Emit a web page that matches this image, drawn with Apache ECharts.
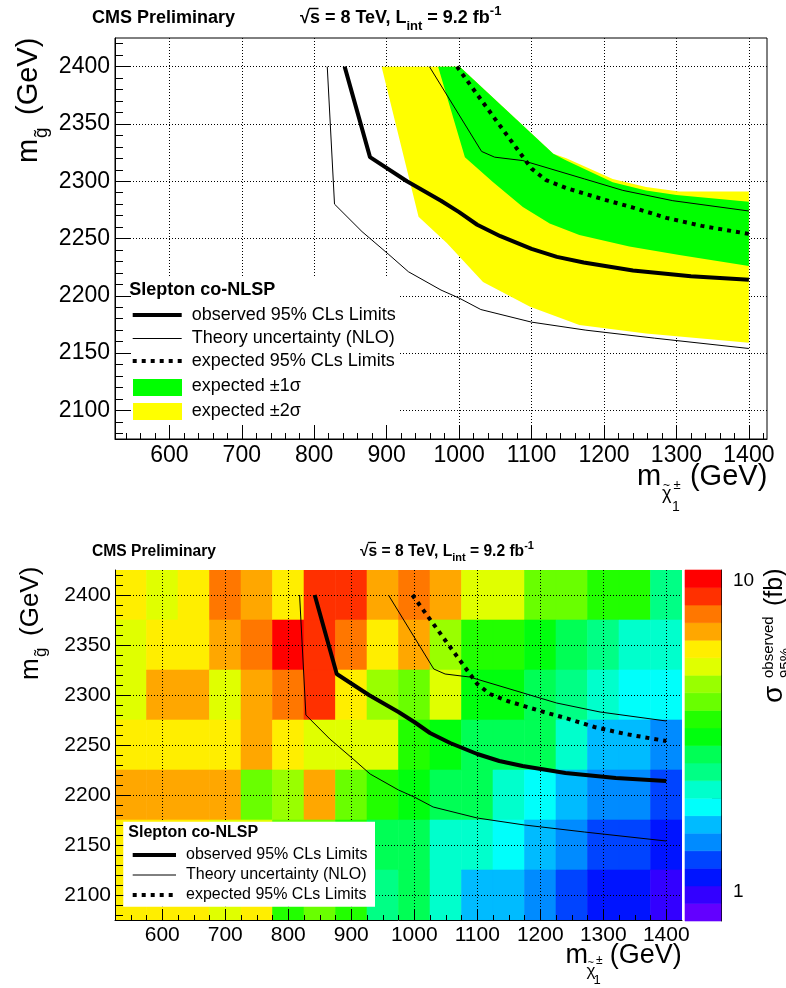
<!DOCTYPE html>
<html lang="en">
<head>
<meta charset="UTF-8" />
<title>Slepton co-NLSP limits</title>
<script src="https://cdn.jsdelivr.net/npm/echarts@6.0.0/dist/echarts.min.js"></script>
<style>
  html, body { margin: 0; padding: 0; background: #fff; }
  #chart { width: 786px; height: 988px; }
</style>
</head>
<body>
<div id="chart"></div>
<script>
// chargino mass bin centres (GeV) and gluino mass bin centres (GeV)
const xBins = [550, 600, 650, 700, 750, 800, 850, 900, 950, 1000, 1050, 1100, 1150, 1200, 1250, 1300, 1350, 1400];
const yBins = [2400, 2350, 2300, 2250, 2200, 2150, 2100];

// observed 95% CLs cross-section limit (fb), one row per gluino mass
const sigmaObs = [
  [6.05, 5.31, 6.05, 7.84, 6.89, 6.05, 8.93, 8.93, 6.89, 7.84, 6.89, 5.31, 5.31, 4.09, 4.09, 3.59, 3.59, 2.43],
  [5.31, 6.05, 6.05, 6.89, 7.84, 10.2, 8.93, 7.84, 6.05, 6.89, 4.66, 3.59, 3.59, 3.16, 2.77, 2.43, 2.14, 2.14],
  [5.31, 6.89, 6.89, 5.31, 6.89, 7.84, 8.93, 6.05, 4.66, 4.09, 5.31, 3.16, 3.16, 2.77, 2.43, 2.14, 1.88, 1.88],
  [6.05, 6.05, 6.05, 6.05, 6.89, 6.05, 5.31, 5.31, 5.31, 3.59, 3.16, 2.77, 2.77, 2.77, 2.14, 1.65, 1.65, 1.45],
  [6.89, 6.89, 6.89, 6.89, 4.09, 4.66, 6.89, 4.09, 3.59, 3.16, 2.77, 2.77, 2.14, 1.88, 1.65, 1.45, 1.45, 1.27],
  [6.05, 6.05, 6.05, 5.31, 5.31, 4.09, 4.09, 3.59, 2.77, 2.77, 2.14, 2.14, 1.88, 1.65, 1.45, 1.27, 1.27, 1.12],
  [6.05, 6.05, 6.05, 5.31, 6.05, 3.59, 4.09, 3.59, 2.43, 2.77, 2.14, 1.65, 1.65, 1.45, 1.27, 1.12, 1.12, 0.98]
];

// limit contours [m_chargino, m_gluino]
const observedLimit = [[842, 2400], [877, 2321], [928, 2300], [975, 2283], [1000, 2273], [1025, 2262], [1057, 2252], [1100, 2241], [1135, 2234], [1172, 2229], [1240, 2222], [1320, 2217], [1400, 2214]];
const theoryUp = [[959, 2400], [1031, 2326], [1049, 2321], [1088, 2318], [1173, 2302], [1226, 2292], [1295, 2283], [1400, 2274]];
const theoryDown = [[818, 2400], [828, 2280], [866, 2256], [903, 2236], [930, 2221], [975, 2205], [1000, 2198], [1030, 2188], [1100, 2177], [1175, 2170], [1270, 2163], [1400, 2154]];
const expectedLimit = [[997, 2400], [1050, 2354], [1100, 2311], [1120, 2301], [1148, 2294], [1200, 2284], [1240, 2277], [1286, 2268], [1335, 2261], [1400, 2254]];
// expected bands as closed outlines
const expected2s = [[893, 2400], [1001, 2400], [1130, 2324], [1148, 2320], [1212, 2302], [1258, 2295], [1304, 2291], [1400, 2291], [1400, 2159], [1258, 2167], [1166, 2174.5], [1098, 2190.5], [1033, 2212], [983, 2246], [944, 2269]];
const expected1s = [[971, 2400], [1001, 2400], [1130, 2324], [1148, 2318], [1212, 2299], [1258, 2292], [1300, 2288], [1400, 2282], [1400, 2226], [1304, 2235.5], [1235, 2243], [1166, 2253], [1125, 2263], [1088, 2277.5], [1047, 2299], [1008, 2321]];

// axis ticks
const xTicks = [600, 700, 800, 900, 1000, 1100, 1200, 1300, 1400];
const yTicks = [2100, 2150, 2200, 2250, 2300, 2350, 2400];
const zTicks = [1, 10];
const zMinorTicks = [0.9, 2, 3, 4, 5, 6, 7, 8, 9];

// colour scale (log), 20 contour levels, violet -> red
const zMin = 0.807, zMax = 10.85;
const palette = ['#6300ff', '#3300ff', '#0014ff', '#0044ff', '#008bff', '#00bbff', '#00fffb', '#00ffcc', '#00ff85', '#00ff55',
                 '#00ff0e', '#22ff00', '#69ff00', '#99ff00', '#e0ff00', '#ffee00', '#ffa700', '#ff7700', '#ff3000', '#ff0000'];

const FONT = '"Liberation Sans", Arial, Helvetica, sans-serif';

function minorList(from, to, step, skip) {
  const out = [];
  for (let v = from; v <= to; v += step) if (v % skip !== 0) out.push(v);
  return out;
}
const topXMinor = minorList(540, 1420, 20, 100);
const botXMinor = minorList(550, 1400, 25, 100);
const yMinor = minorList(2080, 2420, 10, 50);

const levels = palette.map((c, j) => zMin * Math.pow(zMax / zMin, j / palette.length)).concat([zMax]);

const heatData = [];
yBins.forEach((y, r) => xBins.forEach((x, c) => heatData.push([x, y, sigmaObs[r][c]])));

function axis(o) {
  return {
    type: 'value', gridIndex: o.grid, min: o.min, max: o.max, position: o.pos,
    splitNumber: o.split || 5, z: o.z || 0,
    axisLine: { show: !!o.line, onZero: false, lineStyle: { color: '#000', width: 1 } },
    axisTick: { show: true, inside: true, length: o.tickLen, customValues: o.ticks, lineStyle: { color: '#000', width: 1 } },
    axisLabel: o.labelSize
      ? { show: true, customValues: o.ticks, fontSize: o.labelSize, fontFamily: FONT, color: '#000', margin: o.margin, formatter: o.fmt || (v => String(v)) }
      : { show: false },
    splitLine: o.gridLines ? { show: true, lineStyle: { color: '#000', width: 1, type: [1, 2] } } : { show: false },
    minorTick: { show: false }
  };
}

function polygon(points, color) {
  return function (params, api) {
    if (params.dataIndex !== 0) return null;
    return { type: 'polygon', shape: { points: points.map(p => api.coord(p)) }, style: { fill: color } };
  };
}

function contour(data, xi, yi, width, dash, z) {
  return {
    type: 'line', xAxisIndex: xi, yAxisIndex: yi, data: data, z: z,
    showSymbol: false, symbol: 'none', silent: true, clip: true,
    lineStyle: { color: '#000', width: width, type: dash || 'solid', cap: 'butt' }
  };
}

function txt(x, y, text, size, extra) {
  return Object.assign({
    type: 'text', x: x, y: y, z: 30,
    style: Object.assign({ text: text, fontSize: size, fontFamily: FONT, fill: '#000', verticalAlign: 'middle', align: 'left' }, (extra && extra.style) || {})
  }, extra && extra.el);
}

function seg(x1, y1, x2, y2, w, dash) {
  return { type: 'line', z: 30, shape: { x1: x1, y1: y1, x2: x2, y2: y2 }, style: { stroke: '#000', lineWidth: w, lineDash: dash || null } };
}

function titleRich(sub) {
  return {
    sub: { fontSize: sub, fontWeight: 'bold', fontFamily: FONT, verticalAlign: 'middle', padding: [Math.round(sub * 1.2), 0, 0, 0] },
    sup: { fontSize: sub, fontWeight: 'bold', fontFamily: FONT, verticalAlign: 'middle', padding: [0, 0, Math.round(sub * 1.05), 0] }
  };
}

const chart = echarts.init(document.getElementById('chart'), null, { renderer: 'canvas' });

const option = {
  animation: false,
  backgroundColor: '#fff',
  grid: [
    { left: 115, top: 38, width: 652, height: 401, show: true, borderColor: '#000', borderWidth: 1, backgroundColor: 'transparent' },
    { left: 115, top: 570, width: 567, height: 350, show: false },
    { left: 685, top: 570, width: 36, height: 351, show: false }
  ],
  xAxis: [
    axis({ grid: 0, min: 525, max: 1425, pos: 'bottom', split: 9, line: true, tickLen: 14, ticks: xTicks, labelSize: 23, margin: 5, gridLines: true }),
    axis({ grid: 0, min: 525, max: 1425, pos: 'bottom', split: 9, tickLen: 6, ticks: topXMinor }),
    axis({ grid: 1, min: 525, max: 1425, pos: 'bottom', split: 9, line: true, tickLen: 11, ticks: xTicks, labelSize: 21, margin: 5, gridLines: true, z: 5 }),
    axis({ grid: 1, min: 525, max: 1425, pos: 'bottom', split: 9, tickLen: 5, ticks: botXMinor, z: 5 }),
    { type: 'value', gridIndex: 2, min: 0, max: 1, show: false }
  ],
  yAxis: [
    axis({ grid: 0, min: 2075, max: 2425, pos: 'left', split: 7, line: true, tickLen: 16, ticks: yTicks, labelSize: 23, margin: 5, gridLines: true }),
    axis({ grid: 0, min: 2075, max: 2425, pos: 'left', split: 7, tickLen: 8, ticks: yMinor }),
    axis({ grid: 1, min: 2075, max: 2425, pos: 'left', split: 7, line: true, tickLen: 16, ticks: yTicks, labelSize: 21, margin: 4, gridLines: true, z: 5 }),
    axis({ grid: 1, min: 2075, max: 2425, pos: 'left', split: 7, tickLen: 8, ticks: yMinor, z: 5 }),
    axis({ grid: 2, min: Math.log10(zMin), max: Math.log10(zMax), pos: 'right', line: true, tickLen: 17,
           ticks: zTicks.map(Math.log10), labelSize: 19, margin: 12, fmt: v => String(Math.round(Math.pow(10, v))) }),
    axis({ grid: 2, min: Math.log10(zMin), max: Math.log10(zMax), pos: 'right', tickLen: 9, ticks: zMinorTicks.map(Math.log10) })
  ],
  visualMap: [{
    type: 'piecewise', show: false, seriesIndex: 0, dimension: 2,
    pieces: palette.map((color, j) => ({ gte: levels[j], lt: levels[j + 1], color: color }))
  }],
  series: [
    {
      type: 'custom', name: 'sigma', xAxisIndex: 2, yAxisIndex: 2, z: 2, clip: true, silent: true,
      data: heatData, encode: { x: 0, y: 1 },
      renderItem: function (params, api) {
        const x = api.value(0), y = api.value(1);
        const p0 = api.coord([x - 25, y + 25]);
        const p1 = api.coord([x + 25, y - 25]);
        const c = api.visual('color');
        return { type: 'rect', shape: { x: p0[0], y: p0[1], width: p1[0] - p0[0], height: p1[1] - p0[1] }, style: { fill: c, stroke: c, lineWidth: 0.6 } };
      }
    },
    {
      type: 'custom', name: 'colorbar', xAxisIndex: 4, yAxisIndex: 4, z: 2, silent: true,
      data: palette.map((c, j) => [j]),
      renderItem: function (params, api) {
        const j = api.value(0);
        const p0 = api.coord([0, Math.log10(levels[j + 1])]);
        const p1 = api.coord([1, Math.log10(levels[j])]);
        return { type: 'rect', shape: { x: p0[0], y: p0[1], width: p1[0] - p0[0], height: p1[1] - p0[1] }, style: { fill: palette[j], stroke: palette[j], lineWidth: 0.6 } };
      }
    },
    { type: 'custom', xAxisIndex: 0, yAxisIndex: 0, z: 2, silent: true, clip: true, data: expected2s, encode: { x: 0, y: 1 }, renderItem: polygon(expected2s, '#ffff00') },
    { type: 'custom', xAxisIndex: 0, yAxisIndex: 0, z: 2, silent: true, clip: true, data: expected1s, encode: { x: 0, y: 1 }, renderItem: polygon(expected1s, '#00ff00') },
    contour(theoryUp, 0, 0, 1, null, 3),
    contour(theoryDown, 0, 0, 1, null, 3),
    contour(expectedLimit, 0, 0, 4, [4, 5], 3),
    contour(observedLimit, 0, 0, 4, null, 3),
    contour(theoryUp, 2, 2, 1, null, 6),
    contour(theoryDown, 2, 2, 1, null, 6),
    contour(expectedLimit, 2, 2, 4, [4, 5], 6),
    contour(observedLimit, 2, 2, 4, null, 6)
  ],
  graphic: [
    // top panel header
    txt(92, 18.5, 'CMS Preliminary', 18, { style: { fontWeight: 'bold' } }),
    txt(300, 18.5, '√s = 8 TeV, L{sub|int} = 9.2 fb{sup|-1}', 18, { style: { fontWeight: 'bold', rich: titleRich(13) } }),
    seg(309, 8.5, 318.5, 8.5, 1.5),
    // top panel legend
    { type: 'rect', z: 25, shape: { x: 132, y: 277, width: 267.5, height: 147 }, style: { fill: '#fff' } },
    txt(129.3, 290, 'Slepton co-NLSP', 18, { style: { fontWeight: 'bold' } }),
    seg(132.7, 315, 181.7, 315, 4),
    seg(132.7, 338.5, 181.7, 338.5, 1),
    seg(132.7, 361, 181.7, 361, 4, [4, 5]),
    { type: 'rect', z: 30, shape: { x: 133, y: 379, width: 49, height: 17 }, style: { fill: '#00ff00' } },
    { type: 'rect', z: 30, shape: { x: 133, y: 403, width: 49, height: 17 }, style: { fill: '#ffff00' } },
    txt(191.7, 315, 'observed 95% CLs Limits', 18),
    txt(191.7, 338.5, 'Theory uncertainty (NLO)', 18),
    txt(191.7, 361, 'expected 95% CLs Limits', 18),
    txt(191.7, 386.5, 'expected ±1σ', 18),
    txt(191.7, 411, 'expected ±2σ', 18),
    // top panel axis titles
    txt(637, 477, 'm', 29),
    txt(662, 493.8, 'χ', 18),
    txt(663, 485.5, '~', 12),
    txt(673.5, 485, '±', 13),
    txt(672, 507, '1', 14),
    txt(767.3, 477, '(GeV)', 29, { style: { align: 'right' } }),
    {
      type: 'group', x: 39, y: 163, rotation: Math.PI / 2,
      children: [
        txt(0, -10, 'm', 29),
        txt(25, 2.4, 'g̃', 19),
        txt(48, -10, '(GeV)', 29)
      ]
    },
    // bottom panel header
    txt(92, 551.5, 'CMS Preliminary', 15.6, { style: { fontWeight: 'bold' } }),
    txt(360, 551.5, '√s = 8 TeV, L{sub|int} = 9.2 fb{sup|-1}', 15.6, { style: { fontWeight: 'bold', rich: titleRich(11) } }),
    seg(367.8, 542.5, 376, 542.5, 1.3),
    // bottom panel legend
    { type: 'rect', z: 25, shape: { x: 123.3, y: 821.7, width: 251.7, height: 85 }, style: { fill: '#fff' } },
    txt(128.3, 833, 'Slepton co-NLSP', 16, { style: { fontWeight: 'bold' } }),
    seg(132.7, 855, 176, 855, 4),
    seg(132.7, 875, 176, 875, 1),
    seg(132.7, 895, 176, 895, 4, [4, 5]),
    txt(186, 855, 'observed 95% CLs Limits', 16),
    txt(186, 875, 'Theory uncertainty (NLO)', 16),
    txt(186, 895, 'expected 95% CLs Limits', 16),
    // bottom panel axis titles
    txt(565.4, 955.6, 'm', 27),
    txt(586.5, 971, 'χ', 17),
    txt(587.5, 963, '~', 11),
    txt(596, 960.5, '±', 12),
    txt(593.5, 980.5, '1', 13),
    txt(681.7, 955.6, '(GeV)', 27, { style: { align: 'right' } }),
    {
      type: 'group', x: 39.5, y: 680, rotation: Math.PI / 2,
      children: [
        txt(0, -9, 'm', 26),
        txt(23, 2, 'g̃', 17),
        txt(44, -9, '(GeV)', 26)
      ]
    },
    // colour bar title
    {
      type: 'group', x: 784, y: 703, rotation: Math.PI / 2,
      children: [
        txt(0, -9.5, 'σ', 28),
        txt(25, -15, 'observed', 15),
        txt(25, 2, '95%', 15),
        txt(97, -8.7, '(fb)', 25)
      ]
    }
  ]
};

chart.setOption(option);
</script>
</body>
</html>
